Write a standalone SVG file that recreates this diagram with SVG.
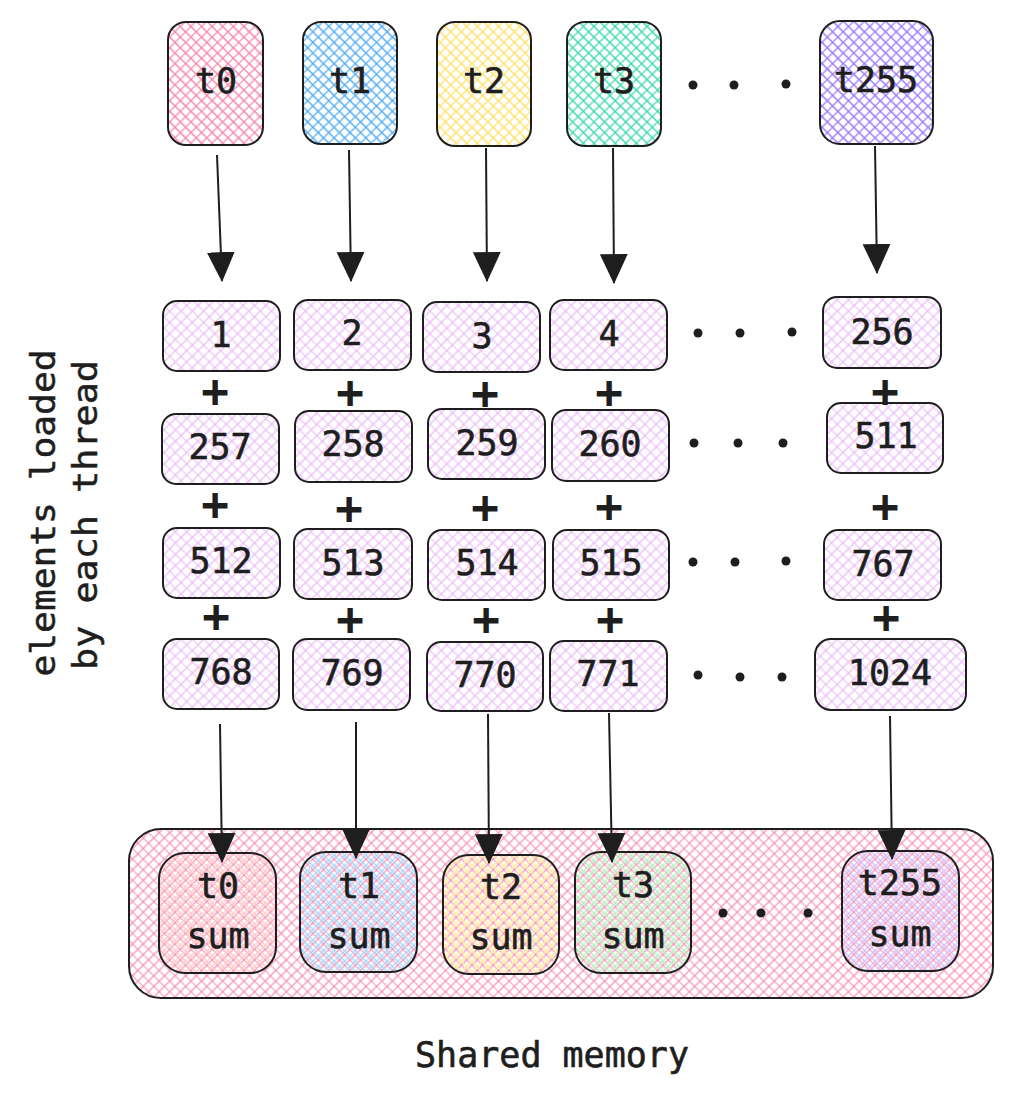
<svg xmlns="http://www.w3.org/2000/svg" width="1012" height="1102" viewBox="0 0 1012 1102">
<style>
.b{stroke:#1e1e1e;stroke-width:2;}
.t{font-family:"DejaVu Sans Mono","Liberation Mono",monospace;font-size:35px;fill:#1e1e1e;stroke:#1e1e1e;stroke-width:0.6;text-anchor:middle;}
.p{font-family:"DejaVu Sans Mono","Liberation Mono",monospace;font-size:46px;font-weight:bold;fill:#1e1e1e;text-anchor:middle;}
.l{font-family:"DejaVu Sans Mono","Liberation Mono",monospace;font-size:33px;fill:#1e1e1e;stroke:#1e1e1e;stroke-width:0.5;text-anchor:middle;}
.c line{stroke:#1e1e1e;stroke-width:2;fill:none;}
.d{fill:#1e1e1e;}
</style>
<defs>
<pattern id="hr" width="7.5" height="7.5" patternUnits="userSpaceOnUse" patternTransform="rotate(45)"><path d="M3.75 0V7.5M0 3.75H7.5" stroke="#f783ac" stroke-width="1.2"/></pattern>
<pattern id="hb" width="7.5" height="7.5" patternUnits="userSpaceOnUse" patternTransform="rotate(45)"><path d="M3.75 0V7.5M0 3.75H7.5" stroke="#4dabf7" stroke-width="1.2"/></pattern>
<pattern id="hy" width="7.5" height="7.5" patternUnits="userSpaceOnUse" patternTransform="rotate(45)"><path d="M3.75 0V7.5M0 3.75H7.5" stroke="#ffe066" stroke-width="1.2"/></pattern>
<pattern id="hg" width="7.5" height="7.5" patternUnits="userSpaceOnUse" patternTransform="rotate(45)"><path d="M3.75 0V7.5M0 3.75H7.5" stroke="#38d9a9" stroke-width="1.2"/></pattern>
<pattern id="hv" width="7.5" height="7.5" patternUnits="userSpaceOnUse" patternTransform="rotate(45)"><path d="M3.75 0V7.5M0 3.75H7.5" stroke="#9775fa" stroke-width="1.2"/></pattern>
<pattern id="hm" width="8" height="8" patternUnits="userSpaceOnUse" patternTransform="rotate(45)"><path d="M4 0V8M0 4H8" stroke="#eab6f7" stroke-width="1.2"/></pattern>
<pattern id="hs" width="7.5" height="7.5" patternUnits="userSpaceOnUse" patternTransform="rotate(45)"><path d="M3.75 0V7.5M0 3.75H7.5" stroke="#f783ac" stroke-width="1.1"/></pattern>
<pattern id="sr" width="7.5" height="7.5" patternUnits="userSpaceOnUse" patternTransform="rotate(45)"><path d="M1 0V7.5M0 1H7.5" stroke="#ffc9c9" stroke-width="1.3"/></pattern>
<pattern id="sb" width="7.5" height="7.5" patternUnits="userSpaceOnUse" patternTransform="rotate(45)"><path d="M1 0V7.5M0 1H7.5" stroke="#a5d8ff" stroke-width="1.3"/></pattern>
<pattern id="sy" width="7.5" height="7.5" patternUnits="userSpaceOnUse" patternTransform="rotate(45)"><path d="M1 0V7.5M0 1H7.5" stroke="#ffec99" stroke-width="1.3"/></pattern>
<pattern id="sg" width="7.5" height="7.5" patternUnits="userSpaceOnUse" patternTransform="rotate(45)"><path d="M1 0V7.5M0 1H7.5" stroke="#b2f2bb" stroke-width="1.3"/></pattern>
<pattern id="sv" width="7.5" height="7.5" patternUnits="userSpaceOnUse" patternTransform="rotate(45)"><path d="M1 0V7.5M0 1H7.5" stroke="#d0bfff" stroke-width="1.3"/></pattern>
<marker id="ah" markerUnits="userSpaceOnUse" markerWidth="30" markerHeight="30" viewBox="0 0 28 26" refX="27" refY="13" orient="auto"><path d="M0 0L28 13L0 26Z" fill="#1e1e1e"/></marker>
</defs>
<rect width="1012" height="1102" fill="#ffffff"/>

<!-- shared memory container -->
<g id="shared-memory">
<rect class="b" x="129" y="829" width="864" height="169" rx="32" fill="url(#hs)"/>
<text class="t" x="552" y="1067">Shared memory</text>
</g>

<!-- thread boxes -->
<g id="t0"><rect class="b" x="168" y="22" width="95" height="123" rx="18" fill="url(#hr)"/><text class="t" x="216" y="93">t0</text></g>
<g id="t1"><rect class="b" x="303" y="22" width="94" height="122" rx="18" fill="url(#hb)"/><text class="t" x="350" y="93">t1</text></g>
<g id="t2"><rect class="b" x="437" y="22" width="94" height="124" rx="18" fill="url(#hy)"/><text class="t" x="484" y="93">t2</text></g>
<g id="t3"><rect class="b" x="567" y="22" width="94" height="124" rx="18" fill="url(#hg)"/><text class="t" x="614" y="93">t3</text></g>
<g id="dots-top"><circle class="d" cx="693" cy="85" r="4.5"/><circle class="d" cx="734" cy="85" r="4.5"/><circle class="d" cx="786" cy="84" r="4.5"/></g>
<g id="t255"><rect class="b" x="820" y="21" width="113" height="123" rx="20" fill="url(#hv)"/><text class="t" x="876" y="92">t255</text></g>

<!-- row 1 -->
<g id="n1"><rect class="b" x="163" y="301" width="117" height="70" rx="14" fill="url(#hm)"/><text class="t" x="221" y="347">1</text></g>
<g id="n2"><rect class="b" x="294" y="300" width="117" height="70" rx="14" fill="url(#hm)"/><text class="t" x="352" y="345">2</text></g>
<g id="n3"><rect class="b" x="423" y="302" width="117" height="70" rx="14" fill="url(#hm)"/><text class="t" x="482" y="348">3</text></g>
<g id="n4"><rect class="b" x="550" y="300" width="117" height="70" rx="14" fill="url(#hm)"/><text class="t" x="609" y="346">4</text></g>
<g id="dots-r1"><circle class="d" cx="698" cy="333" r="4.5"/><circle class="d" cx="740" cy="333" r="4.5"/><circle class="d" cx="792" cy="332" r="4.5"/></g>
<g id="n256"><rect class="b" x="823" y="297" width="118" height="71" rx="14" fill="url(#hm)"/><text class="t" x="882" y="344">256</text></g>

<!-- row 2 -->
<g id="n257"><rect class="b" x="162" y="414" width="117" height="70" rx="14" fill="url(#hm)"/><text class="t" x="220" y="459">257</text></g>
<g id="n258"><rect class="b" x="295" y="411" width="117" height="71" rx="14" fill="url(#hm)"/><text class="t" x="353" y="456">258</text></g>
<g id="n259"><rect class="b" x="428" y="409" width="117" height="70" rx="14" fill="url(#hm)"/><text class="t" x="487" y="455">259</text></g>
<g id="n260"><rect class="b" x="552" y="410" width="117" height="71" rx="14" fill="url(#hm)"/><text class="t" x="610" y="456">260</text></g>
<g id="dots-r2"><circle class="d" cx="694" cy="443" r="4.5"/><circle class="d" cx="738" cy="443" r="4.5"/><circle class="d" cx="783" cy="443" r="4.5"/></g>
<g id="n511"><rect class="b" x="827" y="403" width="116" height="70" rx="14" fill="url(#hm)"/><text class="t" x="886" y="448">511</text></g>

<!-- row 3 -->
<g id="n512"><rect class="b" x="163" y="528" width="117" height="70" rx="14" fill="url(#hm)"/><text class="t" x="221" y="573">512</text></g>
<g id="n513"><rect class="b" x="294" y="529" width="118" height="70" rx="14" fill="url(#hm)"/><text class="t" x="353" y="575">513</text></g>
<g id="n514"><rect class="b" x="428" y="530" width="117" height="70" rx="14" fill="url(#hm)"/><text class="t" x="487" y="575">514</text></g>
<g id="n515"><rect class="b" x="553" y="530" width="116" height="70" rx="14" fill="url(#hm)"/><text class="t" x="611" y="575">515</text></g>
<g id="dots-r3"><circle class="d" cx="693" cy="562" r="4.5"/><circle class="d" cx="735" cy="562" r="4.5"/><circle class="d" cx="786" cy="561" r="4.5"/></g>
<g id="n767"><rect class="b" x="824" y="530" width="117" height="70" rx="14" fill="url(#hm)"/><text class="t" x="883" y="576">767</text></g>

<!-- row 4 -->
<g id="n768"><rect class="b" x="163" y="639" width="116" height="70" rx="14" fill="url(#hm)"/><text class="t" x="221" y="684">768</text></g>
<g id="n769"><rect class="b" x="293" y="639" width="117" height="71" rx="14" fill="url(#hm)"/><text class="t" x="352" y="685">769</text></g>
<g id="n770"><rect class="b" x="427" y="642" width="116" height="69" rx="14" fill="url(#hm)"/><text class="t" x="485" y="687">770</text></g>
<g id="n771"><rect class="b" x="550" y="641" width="117" height="70" rx="14" fill="url(#hm)"/><text class="t" x="608" y="686">771</text></g>
<g id="dots-r4"><circle class="d" cx="698" cy="675" r="4.5"/><circle class="d" cx="740" cy="677" r="4.5"/><circle class="d" cx="782" cy="677" r="4.5"/></g>
<g id="n1024"><rect class="b" x="815" y="639" width="151" height="71" rx="16" fill="url(#hm)"/><text class="t" x="890" y="685">1024</text></g>

<!-- plus signs -->
<g id="plus">
<text class="p" x="215" y="407">+</text><text class="p" x="350" y="408">+</text><text class="p" x="485" y="409">+</text><text class="p" x="609" y="408">+</text><text class="p" x="885" y="407">+</text>
<text class="p" x="215" y="520">+</text><text class="p" x="349" y="524">+</text><text class="p" x="485" y="523">+</text><text class="p" x="609" y="522">+</text><text class="p" x="885" y="522">+</text>
<text class="p" x="216" y="632">+</text><text class="p" x="350" y="635">+</text><text class="p" x="486" y="635">+</text><text class="p" x="610" y="635">+</text><text class="p" x="886" y="633">+</text>
</g>

<!-- sum boxes -->
<g id="t0-sum"><rect class="b" x="159" y="853" width="117" height="120" rx="26" fill="url(#sr)"/><text class="t" x="218" y="898">t0</text><text class="t" x="218" y="948">sum</text></g>
<g id="t1-sum"><rect class="b" x="300" y="852" width="117" height="120" rx="26" fill="url(#sb)"/><text class="t" x="359" y="898">t1</text><text class="t" x="359" y="948">sum</text></g>
<g id="t2-sum"><rect class="b" x="443" y="855" width="116" height="119" rx="26" fill="url(#sy)"/><text class="t" x="501" y="899">t2</text><text class="t" x="501" y="949">sum</text></g>
<g id="t3-sum"><rect class="b" x="575" y="852" width="116" height="121" rx="26" fill="url(#sg)"/><text class="t" x="633" y="897">t3</text><text class="t" x="633" y="948">sum</text></g>
<g id="dots-sum"><circle class="d" cx="723" cy="913" r="4.5"/><circle class="d" cx="761" cy="913" r="4.5"/><circle class="d" cx="808" cy="913" r="4.5"/></g>
<g id="t255-sum"><rect class="b" x="842" y="851" width="117" height="120" rx="26" fill="url(#sv)"/><text class="t" x="900" y="895">t255</text><text class="t" x="900" y="946">sum</text></g>

<!-- side label -->
<g id="label">
<text class="l" transform="translate(55,513) rotate(-90)" textLength="327" lengthAdjust="spacingAndGlyphs">elements loaded</text>
<text class="l" transform="translate(97,515) rotate(-90)" textLength="310" lengthAdjust="spacingAndGlyphs">by each thread</text>
</g>

<!-- connectors -->
<g id="connectors" class="c">
<line x1="217" y1="155" x2="222" y2="281" marker-end="url(#ah)"/>
<line x1="349" y1="150" x2="351" y2="281" marker-end="url(#ah)"/>
<line x1="486" y1="148" x2="487" y2="281" marker-end="url(#ah)"/>
<line x1="613" y1="148" x2="614" y2="283" marker-end="url(#ah)"/>
<line x1="875" y1="146" x2="877" y2="273" marker-end="url(#ah)"/>
<line x1="220" y1="724" x2="222" y2="862" marker-end="url(#ah)"/>
<line x1="356" y1="722" x2="356" y2="858" marker-end="url(#ah)"/>
<line x1="488" y1="714" x2="489" y2="863" marker-end="url(#ah)"/>
<line x1="609" y1="713" x2="612" y2="862" marker-end="url(#ah)"/>
<line x1="890" y1="716" x2="892" y2="859" marker-end="url(#ah)"/>
</g>
</svg>
